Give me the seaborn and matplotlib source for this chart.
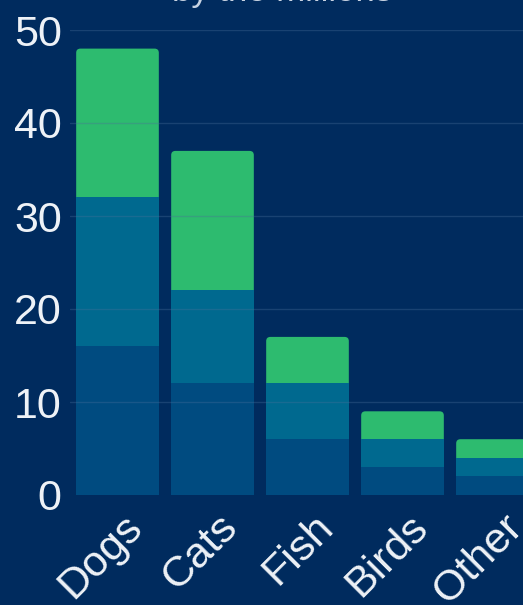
import pandas as pd
import matplotlib.pyplot as plt
import matplotlib.transforms as mtransforms
from matplotlib.patches import FancyBboxPatch
import seaborn as sns

# datos (millones)
pets = ['Dogs', 'Cats', 'Fish', 'Birds', 'Other']
low = [16, 12, 6, 3, 2]
mid = [16, 10, 6, 3, 2]
high = [16, 15, 5, 3, 2]
yticks = [0, 10, 20, 30, 40, 50]
subtitle = 'by the millions'

bg = '#002b5e'
c_low = '#004b80'
c_mid = '#00698f'
c_high = '#2dbb6f'
txt = '#eef2f7'

df = pd.DataFrame({'pet': pets, 'low': low, 'mid': mid, 'high': high})
df['c1'] = df['low']
df['c2'] = df['low'] + df['mid']
df['c3'] = df['c2'] + df['high']

sns.set_theme(style='dark')
plt.rcParams['font.family'] = ['Liberation Sans', 'DejaVu Sans']

fig = plt.figure(figsize=(5.23, 6.05), dpi=100, facecolor=bg)
ax = fig.add_axes([70 / 523, 110 / 605, 475 / 523, 465 / 605])
ax.set_facecolor(bg)

# barras apiladas: totales primero, luego encima las partes
sns.barplot(data=df, x='pet', y='c3', color=c_high, width=0.87, saturation=1, ax=ax, edgecolor='none')

# esquinas redondeadas arriba (el resto lo tapan las otras capas)
for p in list(ax.patches):
    x, y = p.get_x(), p.get_y()
    w, h = p.get_width(), p.get_height()
    p.set_visible(False)
    ax.add_patch(FancyBboxPatch((x, y), w, h,
                                boxstyle='round,pad=0,rounding_size=0.045',
                                mutation_aspect=10, facecolor=c_high,
                                edgecolor='none', zorder=2))

sns.barplot(data=df, x='pet', y='c2', color=c_mid, width=0.87, saturation=1, ax=ax, edgecolor='none', zorder=3)
sns.barplot(data=df, x='pet', y='c1', color=c_low, width=0.87, saturation=1, ax=ax, edgecolor='none', zorder=4)

ax.set_xlim(-0.5, len(pets) - 0.5)
ax.set_ylim(0, 50)
ax.set_yticks(yticks)
ax.set_yticklabels([str(v) for v in yticks])
for v in yticks[1:]:
    ax.axhline(v, color='#4a6f9a', lw=1, alpha=0.35, zorder=5)

ax.set_xlabel('')
ax.set_ylabel('')
for s in ax.spines.values():
    s.set_visible(False)
ax.tick_params(axis='y', length=0, pad=6, labelsize=31, labelcolor=txt)
ax.tick_params(axis='x', length=0, pad=2, labelsize=31, labelcolor=txt)

offset = mtransforms.ScaledTranslation(5 / 100, -9 / 100, fig.dpi_scale_trans)
for lab in ax.get_xticklabels():
    lab.set_rotation(45)
    lab.set_ha('right')
    lab.set_va('top')
    lab.set_rotation_mode('anchor')
    lab.set_transform(lab.get_transform() + offset)

fig.text(0.54, 1 - 1 / 605, subtitle, ha='center', va='baseline', fontsize=25, color='#c8d3e2')

plt.savefig('out.png', dpi=100, facecolor=bg)
plt.close()
